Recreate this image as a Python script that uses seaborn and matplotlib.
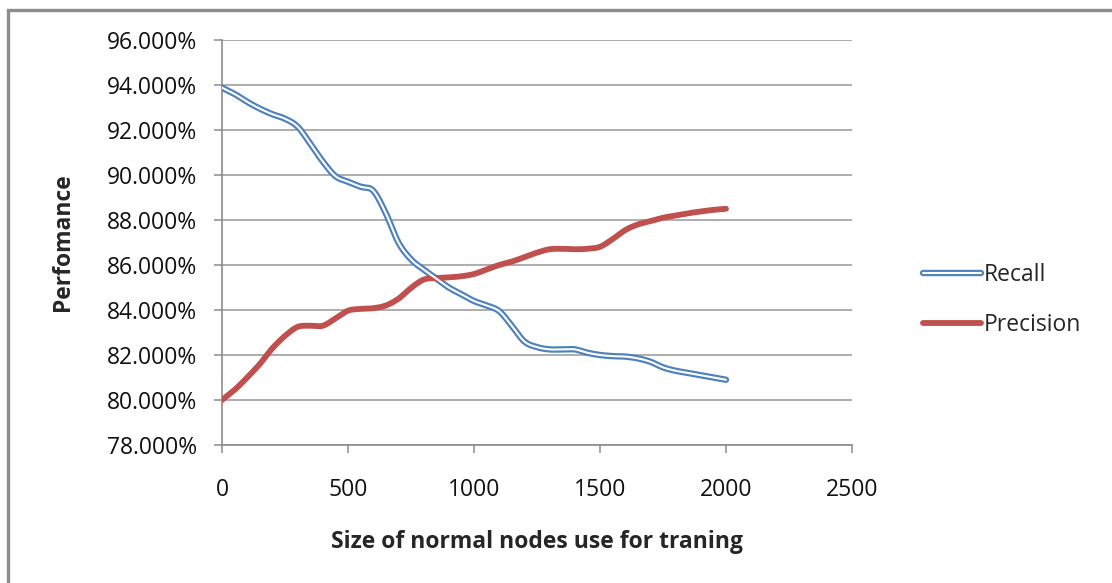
import numpy as np
import pandas as pd
import matplotlib
matplotlib.use("Agg")
import matplotlib.pyplot as plt
from matplotlib.lines import Line2D
from matplotlib.patches import Rectangle
from matplotlib.ticker import FuncFormatter
import seaborn as sns

# Training-set size (normal nodes) and the measured scores, in percent
train_size = list(range(0, 2001, 50))
recall = [93.88, 93.60, 93.25, 92.95, 92.70, 92.50, 92.15, 91.40, 90.60, 89.95,
          89.70, 89.48, 89.30, 88.30, 87.00, 86.25, 85.80, 85.40, 85.00, 84.70,
          84.40, 84.20, 83.95, 83.30, 82.60, 82.35, 82.25, 82.25, 82.25, 82.10,
          82.00, 81.95, 81.93, 81.85, 81.70, 81.45, 81.30, 81.20, 81.10, 81.00,
          80.90]
precision = [80.00, 80.45, 81.00, 81.60, 82.30, 82.85, 83.25, 83.30, 83.30, 83.62,
             83.97, 84.05, 84.08, 84.20, 84.50, 84.98, 85.35, 85.42, 85.45, 85.50,
             85.60, 85.80, 86.00, 86.15, 86.35, 86.55, 86.70, 86.72, 86.70, 86.72,
             86.81, 87.15, 87.55, 87.80, 87.95, 88.10, 88.20, 88.30, 88.38, 88.45,
             88.50]
series_names = ["Recall", "Precision"]
y_ticks = [78, 80, 82, 84, 86, 88, 90, 92, 94, 96]
x_ticks = [0, 500, 1000, 1500, 2000, 2500]


def smooth(x, y, n=12):
    """Catmull-Rom curve through the points (smoothed line rendering)."""
    x = np.asarray(x, float)
    y = np.asarray(y, float)
    px = np.concatenate([[2 * x[0] - x[1]], x, [2 * x[-1] - x[-2]]])
    py = np.concatenate([[2 * y[0] - y[1]], y, [2 * y[-1] - y[-2]]])
    t = np.linspace(0, 1, n, endpoint=False)
    xs, ys = [], []
    for i in range(1, len(px) - 2):
        for P, out in ((px, xs), (py, ys)):
            p0, p1, p2, p3 = P[i - 1], P[i], P[i + 1], P[i + 2]
            out.extend(0.5 * ((2 * p1) + (-p0 + p2) * t
                              + (2 * p0 - 5 * p1 + 4 * p2 - p3) * t ** 2
                              + (-p0 + 3 * p1 - 3 * p2 + p3) * t ** 3))
    xs.append(x[-1])
    ys.append(y[-1])
    return np.array(xs), np.array(ys)


rx, ry = smooth(train_size, recall)
px_, py_ = smooth(train_size, precision)
curves = pd.concat([
    pd.DataFrame({"size": rx, "score": ry, "series": series_names[0]}),
    pd.DataFrame({"size": px_, "score": py_, "series": series_names[1]}),
])

sns.set_theme(style="white")
plt.rcParams["font.family"] = ["Open Sans", "DejaVu Sans"]

fig = plt.figure(figsize=(11.12, 5.83), dpi=100)
ax = fig.add_axes([222 / 1112, 1 - 445 / 583, 630 / 1112, 405 / 583])

blue = "#4F81BD"
red = "#C0504D"
fs = 16.5

sns.lineplot(data=curves[curves.series == "Recall"], x="size", y="score",
             ax=ax, color=blue, lw=4.6, solid_capstyle="round", legend=False,
             zorder=3)
ax.plot(rx, ry, color="white", lw=1.5, solid_capstyle="round", zorder=4)
sns.lineplot(data=curves[curves.series == "Precision"], x="size", y="score",
             ax=ax, color=red, lw=4.2, solid_capstyle="round", legend=False,
             zorder=3)

ax.set_xlim(0, 2500)
ax.set_ylim(78, 96)
ax.set_xticks(x_ticks)
ax.set_yticks(y_ticks)
ax.yaxis.set_major_formatter(FuncFormatter(lambda v, _: f"{v:.3f}%"))
ax.grid(axis="y", color="#A0A0A0", lw=1.2)
ax.grid(axis="x", visible=False)
ax.set_axisbelow(True)

for side in ("top", "right"):
    ax.spines[side].set_visible(False)
for side in ("left", "bottom"):
    ax.spines[side].set_color("#8C8C8C")
    ax.spines[side].set_linewidth(1.2)

ax.tick_params(axis="y", which="major", left=True, length=6, width=1.1,
               color="#8C8C8C", pad=12, labelsize=fs, labelcolor="#111111")
ax.tick_params(axis="x", which="major", bottom=True, length=6, width=1.1,
               color="#8C8C8C", pad=18, labelsize=fs, labelcolor="#111111")

ax.set_xlabel("Size of normal nodes use for traning", fontsize=fs,
              fontweight="bold", labelpad=20)
ax.set_ylabel("Perfomance", fontsize=fs, fontweight="bold", labelpad=23)

handles = [
    (Line2D([], [], color=blue, lw=4.6, solid_capstyle="round"),
     Line2D([], [], color="white", lw=1.5, solid_capstyle="round")),
    Line2D([], [], color=red, lw=4.2, solid_capstyle="round"),
]
fig.legend(handles, series_names, loc="center left",
           bbox_to_anchor=(923 / 1112, 1 - 300 / 583), frameon=False,
           fontsize=fs, handlelength=2.55, handletextpad=0.12,
           labelspacing=1.12, borderpad=0, borderaxespad=0)

# Outer chart-area border
fig.patches.append(Rectangle((8 / 1112, -0.2), 1.2, 1.2 - 10 / 583,
                             transform=fig.transFigure, fill=False,
                             edgecolor="#8C8C8C", lw=2.4, zorder=0))

fig.savefig("out.png", dpi=100)
